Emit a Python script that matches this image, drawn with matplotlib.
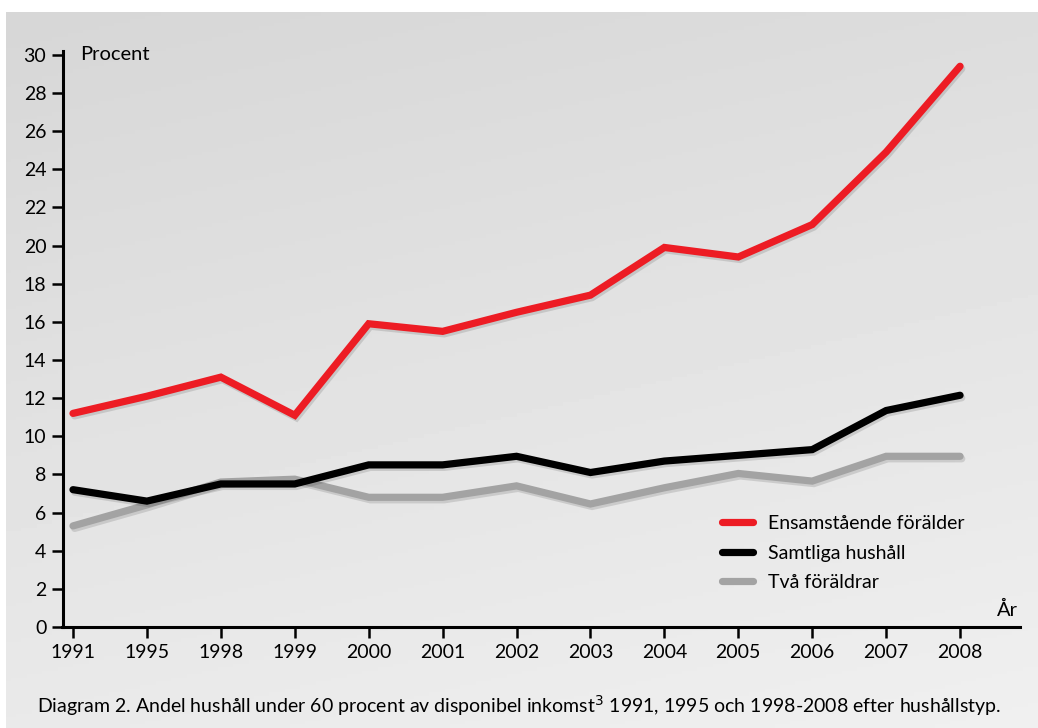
import numpy as np
import matplotlib
matplotlib.use('Agg')
import matplotlib.pyplot as plt
import matplotlib.patheffects as pe
from matplotlib.lines import Line2D

plt.rcParams['font.family'] = ['Lato', 'DejaVu Sans']

# Data
years = ['1991', '1995', '1998', '1999', '2000', '2001', '2002',
         '2003', '2004', '2005', '2006', '2007', '2008']
ensamstaende = [11.2, 12.1, 13.1, 11.1, 15.9, 15.5, 16.5, 17.4, 19.9, 19.4, 21.1, 24.9, 29.4]
samtliga = [7.2, 6.6, 7.5, 7.5, 8.5, 8.5, 8.95, 8.1, 8.7, 9.0, 9.3, 11.35, 12.15]
tva_foraldrar = [5.3, 6.4, 7.6, 7.75, 6.8, 6.8, 7.4, 6.45, 7.3, 8.05, 7.65, 8.95, 8.95]
yticks = list(range(0, 31, 2))

series = [
    ('Ensamstående förälder', ensamstaende, '#ed1c24'),
    ('Samtliga hushåll', samtliga, '#000000'),
    ('Två föräldrar', tva_foraldrar, '#a3a3a3'),
]

fig = plt.figure(figsize=(10.38, 7.28), dpi=100, facecolor='white')

# gradient grey panel behind the chart
bg = fig.add_axes([6 / 1038, 0, 1 - 6 / 1038, 1 - 12 / 728])
gy, gx = np.mgrid[0:1:200j, 0:1:200j]
grad = 0.84 + 0.10 * (0.75 * gy + 0.25 * gx)
bg.imshow(grad, cmap='gray', vmin=0, vmax=1, aspect='auto', extent=[0, 1, 0, 1], origin='upper')
bg.axis('off')

ax = fig.add_axes([63 / 1038, 1 - 627 / 728, (1020 - 63) / 1038, (627 - 51) / 728])
ax.patch.set_alpha(0)

x = np.arange(len(years))
shadow = [pe.SimpleLineShadow(offset=(1.2, -1.8), shadow_color='black', alpha=0.12), pe.Normal()]
for label, vals, color in reversed(series):
    ax.plot(x, vals, color=color, lw=5.2, solid_capstyle='round', solid_joinstyle='miter',
            path_effects=shadow, label=label)

ax.set_xlim(-10 / 74, 12 + 60 / 74)
ax.set_ylim(0, 30.2)
ax.set_xticks(x)
ax.set_xticklabels(years, fontsize=14)
ax.set_yticks(yticks)
ax.set_yticklabels([str(v) for v in yticks], fontsize=14)
ax.tick_params(axis='both', length=8, width=1.8, color='black', pad=4)

for side in ['top', 'right']:
    ax.spines[side].set_visible(False)
ax.spines['left'].set_linewidth(2.2)
ax.spines['bottom'].set_linewidth(2.2)
ax.spines['bottom'].set_bounds(-0.15, 12 + 60 / 74)

ax.text(0.1, 30, 'Procent', fontsize=14.5, va='center', ha='left')
ax.text(12.78, 0.4, 'År', fontsize=14.5, va='bottom', ha='right')

handles = [Line2D([0], [0], color=c, lw=5.2, solid_capstyle='round') for _, _, c in series]
ax.legend(handles, [s[0] for s in series], loc='upper left', bbox_to_anchor=(0.67, 0.225),
          frameon=False, fontsize=14, handlelength=1.6, handletextpad=0.8, labelspacing=0.65)

fig.text(519 / 1038, 1 - 706 / 728,
         'Diagram 2. Andel hushåll under 60 procent av disponibel inkomst$^3$ 1991, 1995 och 1998-2008 efter hushållstyp.',
         ha='center', va='center', fontsize=14)

fig.savefig('out.png', dpi=100, facecolor='white')
